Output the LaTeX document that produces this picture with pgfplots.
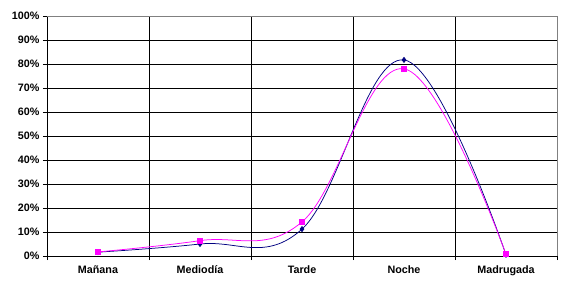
\documentclass[border=0pt]{standalone}
\usepackage{fontspec}
\setmainfont{Liberation Sans}
\usepackage{pgfplots}
\pgfplotsset{compat=1.18}
\definecolor{navyc}{HTML}{000080}
\definecolor{magc}{HTML}{FF00FF}
\definecolor{bordc}{HTML}{808080}
\begin{document}
\begin{tikzpicture}
\begin{axis}[
  name=ax,
  at={(0,0)},
  scale only axis,
  width=510bp, height=240bp,
  xmin=-0.5, xmax=4.5,
  ymin=0, ymax=100,
  axis x line*=bottom, axis y line*=left,
  axis line style={black, line width=0.8bp},
  xtick={-0.5,0.5,1.5,2.5,3.5,4.5},
  xticklabels={},
  extra x ticks={0,1,2,3,4},
  extra x tick labels={Mañana,Mediodía,Tarde,Noche,Madrugada},
  extra x tick style={major tick length=0pt, grid=none},
  ytick={0,10,...,100},
  yticklabel={\pgfmathprintnumber{\tick}\%},
  /pgf/number format/assume math mode=true,
  tick align=outside,
  major tick length=4bp,
  tick style={black, line width=0.8bp},
  xmajorgrids, ymajorgrids,
  grid style={black, line width=0.8bp},
  ticklabel style={font=\bfseries\fontsize{10.8}{13}\selectfont},
  xticklabel style={yshift=-6bp},
  clip=false,
]
\addplot[color=navyc, line width=0.75bp, smooth, tension=0.65,
  mark=diamond*, mark size=2.5bp, mark options={fill=navyc, draw=navyc}]
  coordinates {(0,1.6) (1,5.0) (2,11.2) (3,81.7) (4,0.5)};
\addplot[color=magc, line width=0.75bp, smooth, tension=0.65,
  mark=square*, mark size=2.5bp, mark options={fill=magc, draw=magc}]
  coordinates {(0,1.7) (1,6.4) (2,14.2) (3,78.0) (4,0.7)};
\draw[bordc, line width=0.8bp] (axis cs:-0.5,100) -- (axis cs:4.5,100) -- (axis cs:4.5,0);
\end{axis}
\pgfresetboundingbox
\path ([xshift=-47bp,yshift=-32bp]ax.south west) rectangle ([xshift=5bp,yshift=16bp]ax.north east);
\end{tikzpicture}
\end{document}
